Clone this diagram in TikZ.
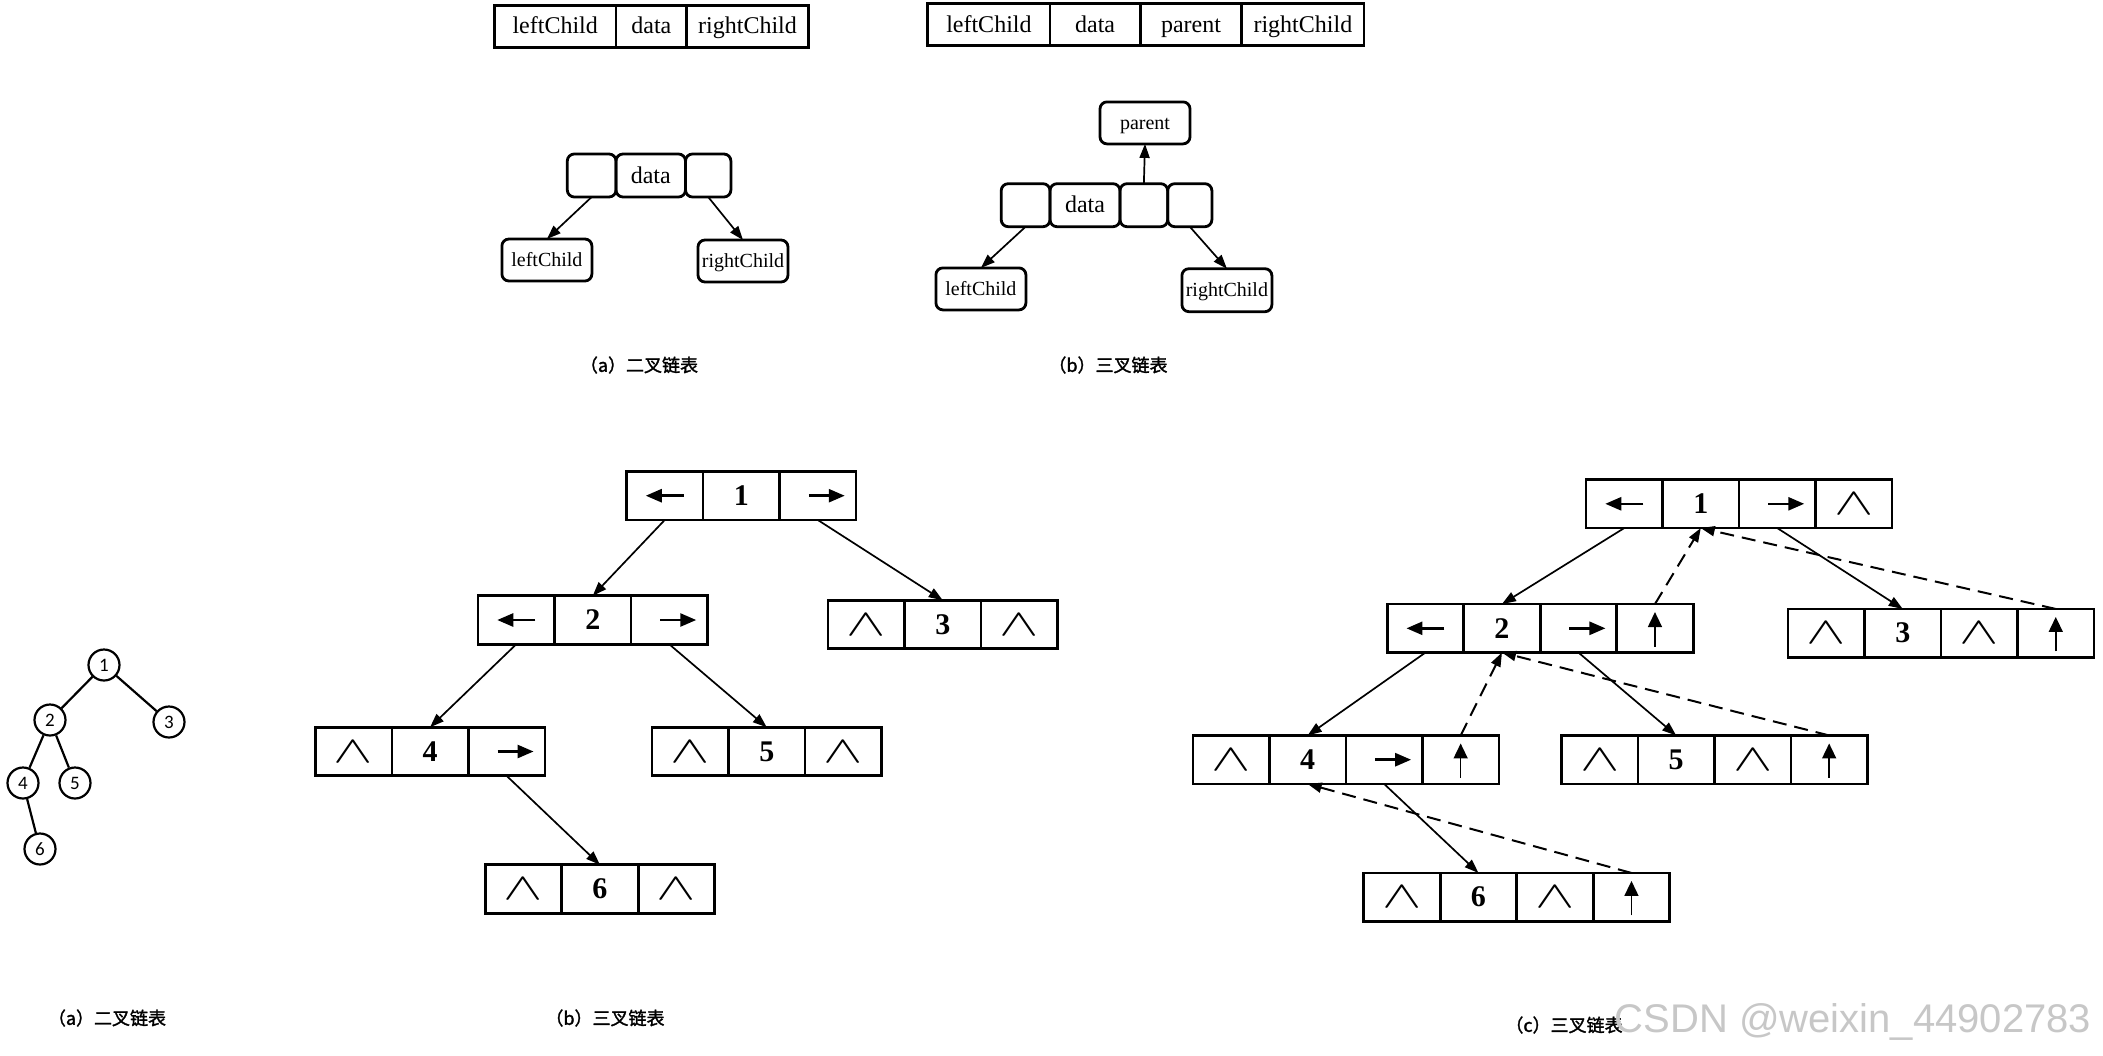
\documentclass[tikz,border=0pt]{standalone}
\usepackage{fontspec}
\usepackage{graphicx}
\setmainfont{Liberation Serif}
\newfontfamily\cjk[FakeBold=1.6]{Noto Sans CJK SC}
\newfontfamily\calib{Carlito}
\newfontfamily\wmfont{Liberation Sans}
\usetikzlibrary{arrows.meta}
\newcommand\nullsym{\scalebox{5.9}[3.8]{$\wedge$}}
\tikzset{
  tcell/.style={draw, line width=2.8pt, minimum height=42pt, inner sep=0pt, outer sep=0pt, text height=19pt, text depth=4pt, font=\fontsize{24}{24}\selectfont},
  rbox/.style={draw, line width=2.8pt, rounded corners=7pt, minimum height=43pt, inner sep=0pt, outer sep=0pt, text height=19pt, text depth=4pt, font=\fontsize{24}{24}\selectfont},
  lbox/.style={rbox, minimum width=90pt, minimum height=42pt, text height=16pt, text depth=3pt, font=\fontsize{20}{20}\selectfont},
  cell/.style={draw, line width=2.6pt, minimum width=76.5pt, minimum height=48.5pt, inner sep=0pt, outer sep=0pt},
  num/.style={cell, font=\fontsize{30}{30}\selectfont\bfseries},
  nul/.style={cell, font=\normalsize},
  lptr/.style={cell, path picture={\draw[line width=2.6pt,-{Triangle[length=16pt,width=13pt]}] ([xshift=19pt]path picture bounding box.center) -- ([xshift=-19pt]path picture bounding box.center);}},
  rptr/.style={cell, path picture={\draw[line width=2.6pt,-{Triangle[length=16pt,width=13pt]}] ([xshift=-9pt]path picture bounding box.center) -- ([xshift=27pt]path picture bounding box.center);}},
  uptr/.style={cell, path picture={\draw[line width=1.6pt,-{Triangle[length=15pt,width=14pt]}] ([yshift=6pt]path picture bounding box.south) -- ([yshift=-8pt]path picture bounding box.north);}},
  conn/.style={line width=1.7pt, -{Triangle[length=14pt,width=10pt]}},
  pconn/.style={line width=2pt, dash pattern=on 14pt off 8pt, -{Triangle[length=14pt,width=10pt]}},
  circ/.style={circle, draw, line width=2.2pt, minimum size=31pt, inner sep=0pt, font=\calib\fontsize{19}{19}\selectfont},
  tedge/.style={line width=2.2pt},
  captext/.style={font=\cjk\fontsize{18}{18}\selectfont, inner sep=0pt},
}
\begin{document}
\begin{tikzpicture}[x=1pt,y=-1pt]
\useasboundingbox (0,0) rectangle (2103,1055);
\fill[white] (0,0) rectangle (2103,1055);

% ---------- top (a): structure table ----------
\node[tcell, minimum width=121.6pt, anchor=west] (ta1) at (494.4,26.4) {leftChild};
\node[tcell, minimum width=70.7pt, anchor=west] (ta2) at (ta1.east) {data};
\node[tcell, minimum width=121.7pt, anchor=west] (ta3) at (ta2.east) {rightChild};

% ---------- top (b): structure table ----------
\node[tcell, minimum width=122.2pt, anchor=west] (tb1) at (927.8,24.5) {leftChild};
\node[tcell, minimum width=90.2pt, anchor=west] (tb2) at (tb1.east) {data};
\node[tcell, minimum width=101.6pt, anchor=west] (tb3) at (tb2.east) {parent};
\node[tcell, minimum width=122.2pt, anchor=west] (tb4) at (tb3.east) {rightChild};

% ---------- top (a): node sketch ----------
\node[rbox, minimum width=48.7pt, anchor=west] (al) at (567.3,175.5) {};
\node[rbox, minimum width=69.5pt, anchor=west] (ad) at (al.east) {data};
\node[rbox, minimum width=45.4pt, anchor=west] (ar) at (ad.east) {};
\node[lbox] (alc) at (546.9,260) {leftChild};
\node[lbox] (arc) at (743,261) {rightChild};
\draw[conn] (al.south) -- (alc.north);
\draw[conn] (ar.south) -- (arc.north);
\node[captext] (capa1) at (639,365) {（a）二叉链表};

% ---------- top (b): node sketch ----------
\node[rbox, minimum width=48.8pt, anchor=west] (bl) at (1001.2,205.2) {};
\node[rbox, minimum width=70pt, anchor=west] (bd) at (bl.east) {data};
\node[rbox, minimum width=47.7pt, anchor=west] (bp) at (bd.east) {};
\node[rbox, minimum width=44.2pt, anchor=west] (br) at (bp.east) {};
\node[lbox] (bpar) at (1145,122.9) {parent};
\node[lbox] (blc) at (980.9,288.9) {leftChild};
\node[lbox, minimum height=43pt] (brc) at (1226.9,290.2) {rightChild};
\draw[conn] (bp.north) -- (bpar.south);
\draw[conn] (bl.south) -- (blc.north);
\draw[conn] (br.south) -- (brc.north);
\node[captext] (capb1) at (1108,365) {（b）三叉链表};

% ---------- bottom (a): tree ----------
\node[circ] (t1) at (104,665) {1};
\node[circ] (t2) at (50,720) {2};
\node[circ] (t3) at (169,722) {3};
\node[circ] (t4) at (23,783) {4};
\node[circ] (t5) at (75,783) {5};
\node[circ] (t6) at (40,849) {6};
\draw[tedge] (t1) -- (t2);
\draw[tedge] (t1) -- (t3);
\draw[tedge] (t2) -- (t4);
\draw[tedge] (t2) -- (t5);
\draw[tedge] (t4) -- (t6);
\node[captext] (capa2) at (107,1018) {（a）二叉链表};

% ---------- bottom (b): binary linked list ----------
\node[lptr, anchor=west] (b1l) at (626.5,495.7) {};
\node[num, anchor=west] (b1d) at (b1l.east) {1};
\node[rptr, anchor=west] (b1r) at (b1d.east) {};

\node[lptr, anchor=west] (b2l) at (478,620) {};
\node[num, anchor=west] (b2d) at (b2l.east) {2};
\node[rptr, anchor=west] (b2r) at (b2d.east) {};

\node[nul, anchor=west] (b3l) at (828,624.5) {\nullsym};
\node[num, anchor=west] (b3d) at (b3l.east) {3};
\node[nul, anchor=west] (b3r) at (b3d.east) {\nullsym};

\node[nul, anchor=west] (b4l) at (315.3,751.5) {\nullsym};
\node[num, anchor=west] (b4d) at (b4l.east) {4};
\node[rptr, anchor=west] (b4r) at (b4d.east) {};

\node[nul, anchor=west] (b5l) at (652,751.5) {\nullsym};
\node[num, anchor=west] (b5d) at (b5l.east) {5};
\node[nul, anchor=west] (b5r) at (b5d.east) {\nullsym};

\node[nul, anchor=west] (b6l) at (485.2,889) {\nullsym};
\node[num, anchor=west] (b6d) at (b6l.east) {6};
\node[nul, anchor=west] (b6r) at (b6d.east) {\nullsym};

\draw[conn] (b1l.south) -- (b2d.north);
\draw[conn] (b1r.south) -- (b3d.north);
\draw[conn] (b2l.south) -- (b4d.north);
\draw[conn] (b2r.south) -- (b5d.north);
\draw[conn] (b4r.south) -- (b6d.north);
\node[captext] (capb2) at (605,1018) {（b）三叉链表};

% ---------- bottom (c): trinary linked list ----------
\node[lptr, anchor=west] (c1l) at (1586,503.8) {};
\node[num, anchor=west] (c1d) at (c1l.east) {1};
\node[rptr, anchor=west] (c1r) at (c1d.east) {};
\node[nul, anchor=west] (c1p) at (c1r.east) {\nullsym};

\node[lptr, anchor=west] (c2l) at (1387.2,628.3) {};
\node[num, anchor=west] (c2d) at (c2l.east) {2};
\node[rptr, anchor=west] (c2r) at (c2d.east) {};
\node[uptr, anchor=west] (c2p) at (c2r.east) {};

\node[nul, anchor=west] (c3l) at (1788,633.2) {\nullsym};
\node[num, anchor=west] (c3d) at (c3l.east) {3};
\node[nul, anchor=west] (c3r) at (c3d.east) {\nullsym};
\node[uptr, anchor=west] (c3p) at (c3r.east) {};

\node[nul, anchor=west] (c4l) at (1192.9,759.7) {\nullsym};
\node[num, anchor=west] (c4d) at (c4l.east) {4};
\node[rptr, anchor=west] (c4r) at (c4d.east) {};
\node[uptr, anchor=west] (c4p) at (c4r.east) {};

\node[nul, anchor=west] (c5l) at (1561.4,759.7) {\nullsym};
\node[num, anchor=west] (c5d) at (c5l.east) {5};
\node[nul, anchor=west] (c5r) at (c5d.east) {\nullsym};
\node[uptr, anchor=west] (c5p) at (c5r.east) {};

\node[nul, anchor=west] (c6l) at (1363.7,897.2) {\nullsym};
\node[num, anchor=west] (c6d) at (c6l.east) {6};
\node[nul, anchor=west] (c6r) at (c6d.east) {\nullsym};
\node[uptr, anchor=west] (c6p) at (c6r.east) {};

\draw[conn] (c1l.south) -- (c2d.north);
\draw[conn] (c1r.south) -- (c3d.north);
\draw[conn] (c2l.south) -- (c4d.north);
\draw[conn] (c2r.south) -- (c5d.north);
\draw[conn] (c4r.south) -- (c6d.north);

\draw[pconn] (c2p.north) -- (c1d.south);
\draw[pconn] (c3p.north) -- (c1d.south);
\draw[pconn] (c4p.north) -- (c2d.south);
\draw[pconn] (c5p.north) -- (c2d.south);
\draw[pconn] (c6p.north) -- (c4d.south);
\node[captext] (capc2) at (1564,1025) {（c）三叉链表};

\node[font=\wmfont\fontsize{40}{40}\selectfont, text=black!22, inner sep=0pt] (wm) at (1853,1022) {CSDN @weixin\_44902783};
\end{tikzpicture}
\end{document}
